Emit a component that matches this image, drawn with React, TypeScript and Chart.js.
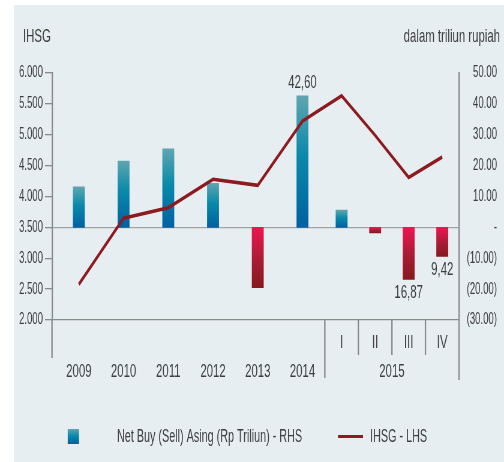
import React, { useEffect, useRef } from 'react';
import { Chart, registerables } from 'chart.js';

Chart.register(...registerables);

// ---------------- data ----------------
const yearCategories = ['2009', '2010', '2011', '2012', '2013', '2014'];
const quarterCategories = ['I', 'II', 'III', 'IV'];
const quarterYear = '2015';
const netBuySell = [13.1, 21.5, 25.4, 14.3, -19.5, 42.6, 5.6, -1.8, -16.87, -9.42];
const ihsg = [2578, 3650, 3819, 4280, 4180, 5220, 5630, 4990, 4310, 4640];
const annotatedIndices = [5, 8, 9];
const seriesLabels = ['Net Buy (Sell) Asing (Rp Triliun) - RHS', 'IHSG - LHS'];
const leftAxisTitle = 'IHSG';
const rightAxisTitle = 'dalam triliun rupiah';
const leftAxisRange = [2000, 6000, 500];
const rightAxisRange = [-30, 50, 10];

// ---------------- layout / style ----------------
const SX = 0.6; // display px per internal px horizontally (condensed type)
const W_INT = Math.round(504 / SX);
const H = 462;
const ix = (d: number) => d / SX;
const FONT_FAMILY = "'Liberation Sans', Arial, sans-serif";
const TEXT = '#3e3e3e';
const AXIS = '#8a8a8a';
const BG = '#e7eef2';
const LINE_COLOR = '#8c1a1f';
const YEAR_SLOT = 4;
const QUARTER_SLOT = 3;
const X_MIN = -0.4;
const VLINE_W = ix(1.4);

const categories = [...yearCategories, ...quarterCategories];
const slotWidths = categories.map((_, i) => (i < yearCategories.length ? YEAR_SLOT : QUARTER_SLOT));
const centers: number[] = [];
let accSlots = 0;
for (const w of slotWidths) {
  centers.push(accSlots + w / 2);
  accSlots += w;
}
const X_MAX = accSlots;
const YEARS_END = yearCategories.length * YEAR_SLOT;

const font = (size: number) => `${size}px ${FONT_FAMILY}`;

function posGradient(c: CanvasRenderingContext2D, y0: number, y1: number) {
  const g = c.createLinearGradient(0, y0, 0, y1);
  g.addColorStop(0, '#5fa6b1');
  g.addColorStop(0.45, '#0a8aab');
  g.addColorStop(1, '#0061a2');
  return g;
}
function negGradient(c: CanvasRenderingContext2D, y0: number, y1: number) {
  const g = c.createLinearGradient(0, y0, 0, y1);
  g.addColorStop(0, '#ee1650');
  g.addColorStop(0.55, '#a81c33');
  g.addColorStop(1, '#861a1f');
  return g;
}

const backgroundPlugin = {
  id: 'bgPanel',
  beforeDraw(chart: any) {
    const c = chart.ctx as CanvasRenderingContext2D;
    c.save();
    c.fillStyle = '#ffffff';
    c.fillRect(0, 0, chart.width, chart.height);
    c.fillStyle = BG;
    c.fillRect(ix(14), 5, chart.width - ix(14), chart.height - 5);
    c.restore();
  },
};

const decorPlugin = {
  id: 'decor',
  afterDraw(chart: any) {
    const c = chart.ctx as CanvasRenderingContext2D;
    const { left, right, bottom } = chart.chartArea;
    const xS = chart.scales.x;
    const yR = chart.scales.yR;
    c.save();
    const vline = (x: number, y0: number, y1: number) => {
      c.beginPath();
      c.moveTo(x, y0);
      c.lineTo(x, y1);
      c.stroke();
    };
    c.strokeStyle = AXIS;
    c.lineWidth = VLINE_W;
    vline(left, bottom, 358);
    vline(right, bottom, 380);
    const secStart = xS.getPixelForValue(YEARS_END);
    vline(secStart, bottom, 378);
    for (let k = 1; k < quarterCategories.length; k++) {
      vline(xS.getPixelForValue(YEARS_END + k * QUARTER_SLOT), bottom, 355);
    }

    c.fillStyle = TEXT;
    c.font = font(19);
    c.textAlign = 'center';
    c.textBaseline = 'middle';
    c.fillText(quarterYear, (secStart + right) / 2, bottom + 8.5 + 29 * 1.5);

    // value annotations
    for (const i of annotatedIndices) {
      const v = netBuySell[i];
      const x = xS.getPixelForValue(centers[i]);
      const y = yR.getPixelForValue(v);
      const txt = Math.abs(v).toFixed(2).replace('.', ',');
      c.textBaseline = 'alphabetic';
      c.textAlign = 'center';
      if (v >= 0) c.fillText(txt, x, y - 8);
      else c.fillText(txt, x, y + 5 + 19 * 0.72);
    }

    // axis titles
    c.font = font(19);
    c.textBaseline = 'middle';
    c.textAlign = 'left';
    c.fillText(leftAxisTitle, ix(23), 37);
    c.textAlign = 'right';
    c.fillText(rightAxisTitle, ix(500), 37);

    // legend
    c.fillStyle = posGradient(c, 429, 444);
    c.fillRect(ix(67.7), 429, ix(11.3), 15);
    c.fillStyle = TEXT;
    c.font = font(18);
    c.textAlign = 'left';
    c.fillText(seriesLabels[0], ix(117), 437);
    c.strokeStyle = LINE_COLOR;
    c.lineWidth = 3;
    c.beginPath();
    c.moveTo(ix(338), 436.5);
    c.lineTo(ix(363), 436.5);
    c.stroke();
    c.fillText(seriesLabels[1], ix(370), 437);
    c.restore();
  },
};

export default function App() {
  const ref = useRef<HTMLCanvasElement | null>(null);

  useEffect(() => {
    if (!ref.current) return;
    const chart = new Chart(ref.current, {
      type: 'bar',
      data: {
        datasets: [
          {
            type: 'line',
            label: seriesLabels[1],
            data: ihsg.map((v, i) => ({ x: centers[i], y: v })),
            yAxisID: 'yL',
            xAxisID: 'x',
            borderColor: LINE_COLOR,
            borderWidth: 3.6,
            pointRadius: 0,
            tension: 0,
            borderJoinStyle: 'miter',
            order: 0,
          } as any,
          {
            type: 'bar',
            label: seriesLabels[0],
            data: netBuySell.map((v, i) => ({ x: centers[i], y: v })),
            yAxisID: 'yR',
            xAxisID: 'x',
            barThickness: ix(11.5),
            borderWidth: 0,
            order: 1,
            backgroundColor: (ctx: any) => {
              const ch = ctx.chart;
              if (!ch.chartArea || ctx.type !== 'data') return '#0a8aab';
              const v = ctx.raw.y;
              const y0 = ch.scales.yR.getPixelForValue(0);
              const y1 = ch.scales.yR.getPixelForValue(v);
              return v >= 0 ? posGradient(ch.ctx, y1, y0) : negGradient(ch.ctx, y0, y1);
            },
          } as any,
        ],
      },
      options: {
        responsive: false,
        animation: false,
        devicePixelRatio: 1,
        layout: { padding: { left: 0, right: ix(7), top: 73, bottom: 0 } },
        plugins: { legend: { display: false }, tooltip: { enabled: false } },
        scales: {
          x: {
            type: 'linear',
            position: 'bottom',
            min: X_MIN,
            max: X_MAX,
            offset: false,
            grid: { display: false, drawTicks: false },
            border: { display: false },
            afterBuildTicks: (axis: any) => {
              axis.ticks = centers.map((v) => ({ value: v }));
            },
            afterFit: (axis: any) => {
              axis.height = H - 320;
            },
            ticks: {
              autoSkip: false,
              maxRotation: 0,
              minRotation: 0,
              padding: 8.5,
              color: TEXT,
              font: { family: FONT_FAMILY, size: 19, lineHeight: 29 / 19 },
              callback: (_v: any, index: number) =>
                index < yearCategories.length ? ['', categories[index]] : [categories[index], ''],
            },
          },
          yL: {
            type: 'linear',
            position: 'left',
            min: leftAxisRange[0],
            max: leftAxisRange[1],
            afterFit: (axis: any) => {
              axis.width = ix(52);
            },
            ticks: {
              stepSize: leftAxisRange[2],
              padding: ix(2),
              color: TEXT,
              font: { family: FONT_FAMILY, size: 16 },
              callback: (v: any) => {
                const n = Number(v);
                return `${Math.floor(n / 1000)}.${String(n % 1000).padStart(3, '0')}`;
              },
            },
            grid: {
              color: (ctx: any) => {
                const val = ctx.tick && ctx.tick.value;
                if (val === 3500) return '#a2a2a2';
                if (val === 2000) return AXIS;
                return 'rgba(0,0,0,0)';
              },
              tickColor: AXIS,
              tickLength: ix(7),
              lineWidth: 1.3,
              tickWidth: 1.3,
            },
            border: { display: true, color: AXIS, width: VLINE_W },
          },
          yR: {
            type: 'linear',
            position: 'right',
            min: rightAxisRange[0],
            max: rightAxisRange[1],
            afterFit: (axis: any) => {
              axis.width = W_INT - ix(7) - ix(459);
            },
            ticks: {
              stepSize: rightAxisRange[2],
              padding: 0,
              crossAlign: 'far',
              color: TEXT,
              font: { family: FONT_FAMILY, size: 16 },
              callback: (v: any) => {
                const n = Number(v);
                if (n === 0) return '-';
                if (n < 0) return `(${Math.abs(n).toFixed(2)})`;
                return n.toFixed(2);
              },
            },
            grid: { display: false, drawTicks: false },
            border: { display: true, color: AXIS, width: VLINE_W },
          },
        },
      } as any,
      plugins: [backgroundPlugin, decorPlugin],
    });
    return () => chart.destroy();
  }, []);

  return (
    <div style={{ position: 'fixed', left: 0, top: 0, width: 504, height: H }}>
      <canvas
        ref={ref}
        width={W_INT}
        height={H}
        style={{ width: '504px', height: `${H}px`, display: 'block' }}
      />
    </div>
  );
}
